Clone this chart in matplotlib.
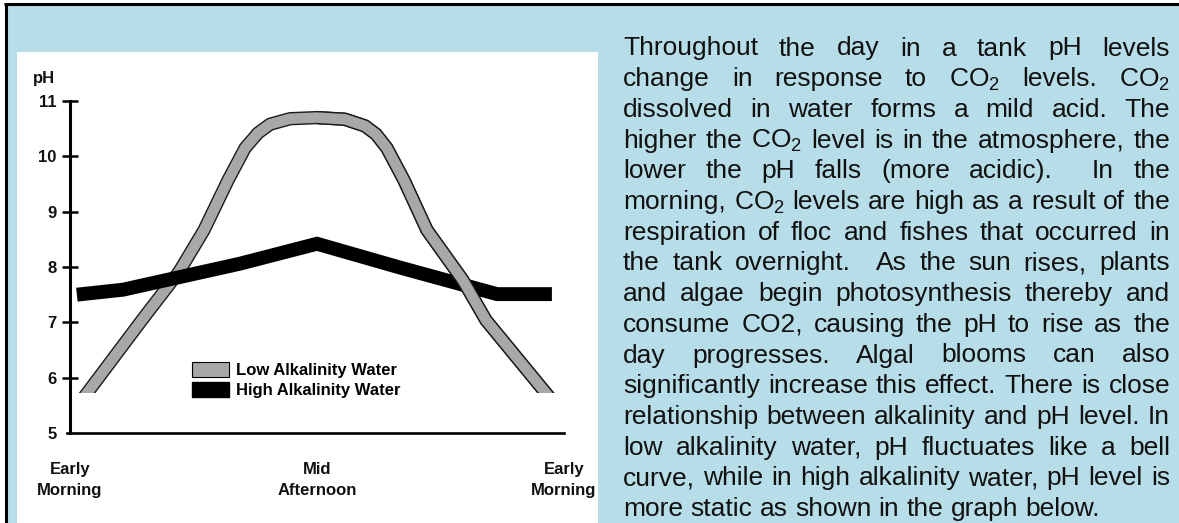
import matplotlib
matplotlib.use('Agg')
import matplotlib.pyplot as plt
import matplotlib.patheffects as pe
from matplotlib.patches import Rectangle, Patch
from matplotlib.lines import Line2D

plt.rcParams['font.family'] = ['Liberation Sans', 'DejaVu Sans']
plt.rcParams['mathtext.fontset'] = 'custom'
plt.rcParams['mathtext.rm'] = 'Liberation Sans'

W, H = 1179, 523

# values (x: 0 = early morning, 1 = mid afternoon, 2 = next early morning)
time_ticks = [0, 1, 2]
time_labels = ['Early\nMorning', 'Mid\nAfternoon', 'Early\nMorning']
ph_ticks = [5, 6, 7, 8, 9, 10, 11]

low_x = [0.069, 0.291, 0.441, 0.543, 0.640, 0.709, 0.761, 0.810, 0.891, 1.0,
         1.113, 1.194, 1.239, 1.283, 1.352, 1.445, 1.591, 1.684, 1.927]
low_ph = [5.72, 7.04, 7.91, 8.67, 9.57, 10.15, 10.42, 10.58, 10.68, 10.70,
          10.67, 10.55, 10.40, 10.15, 9.57, 8.67, 7.76, 7.04, 5.72]

high_x = [0.028, 0.215, 0.688, 1.0, 1.336, 1.729, 1.951]
high_ph = [7.50, 7.59, 8.06, 8.42, 7.99, 7.51, 7.51]

series_names = ['Low Alkalinity Water', 'High Alkalinity Water']

para_lines = [
    'Throughout the day in a tank pH levels',
    'change in response to CO$_2$ levels. CO$_2$',
    'dissolved in water forms a mild acid. The',
    'higher the CO$_2$ level is in the atmosphere, the',
    'lower the pH falls (more acidic).  In the',
    'morning, CO$_2$ levels are high as a result of the',
    'respiration of floc and fishes that occurred in',
    'the tank overnight.  As the sun rises, plants',
    'and algae begin photosynthesis thereby and',
    'consume CO2, causing the pH to rise as the',
    'day progresses. Algal blooms can also',
    'significantly increase this effect. There is close',
    'relationship between alkalinity and pH level. In',
    'low alkalinity water, pH fluctuates like a bell',
    'curve, while in high alkalinity water, pH level is',
    'more static as shown in the graph below.',
]


def fx(px):
    return px / W


def fy(py):
    return 1 - py / H


fig = plt.figure(figsize=(W / 100, H / 100), dpi=100, facecolor='white')

# page background, white chart panel and the black frame lines
fig.add_artist(Rectangle((fx(5), -0.01), 1.0, fy(4) + 0.01, transform=fig.transFigure,
                         facecolor='#b7dde8', edgecolor='none', zorder=0))
fig.add_artist(Rectangle((fx(17), -0.01), fx(598) - fx(17), fy(52) + 0.01, transform=fig.transFigure,
                         facecolor='white', edgecolor='none', zorder=0))
fig.add_artist(Line2D([fx(4), 1.01], [fy(4), fy(4)], transform=fig.transFigure,
                      color='black', lw=2.2, solid_capstyle='butt'))
fig.add_artist(Line2D([fx(5.5), fx(5.5)], [-0.01, fy(4)], transform=fig.transFigure,
                      color='black', lw=2.2, solid_capstyle='butt'))

ax = fig.add_axes([fx(67), fy(433), fx(564) - fx(67), fy(101) - fy(433)])
ax.patch.set_visible(False)
ax.set_xlim(-0.012, 2.0)
ax.set_ylim(5, 11)

clip = Rectangle((-1, 5.72), 4, 10, transform=ax.transData)
clip_right = Rectangle((1, 5.72), 3, 10, transform=ax.transData)

gray = '#a8a8a8'
band = [pe.Stroke(linewidth=9.6, foreground='#1a1a1a'), pe.Normal()]
low1, = ax.plot(low_x, low_ph, color=gray, lw=7.6, solid_joinstyle='round',
                solid_capstyle='projecting', path_effects=band, zorder=2)
low1.set_clip_path(clip)
ax.plot(high_x, high_ph, color='black', lw=10, solid_joinstyle='miter',
        solid_capstyle='butt', zorder=3)
low2, = ax.plot(low_x, low_ph, color=gray, lw=7.6, solid_joinstyle='round',
                solid_capstyle='projecting', path_effects=band, zorder=4)
low2.set_clip_path(clip_right)

for s in ['top', 'right']:
    ax.spines[s].set_visible(False)
ax.spines['left'].set_position(('data', 0))
ax.spines['left'].set_linewidth(2.2)
ax.spines['bottom'].set_linewidth(1.9)

ax.set_yticks(ph_ticks)
ax.set_yticklabels([str(t) for t in ph_ticks], fontsize=12, fontweight='bold', color='#111111')
ax.tick_params(axis='y', direction='inout', length=11.5, width=1.8, pad=4)
ax.yaxis.get_major_ticks()[0].tick1line.set_visible(False)

ax.set_xticks(time_ticks)
ax.set_xticklabels(time_labels, fontsize=12, fontweight='bold', linespacing=1.5, color='#111111')
ax.tick_params(axis='x', length=0, pad=21)

fig.text(fx(44), fy(78), 'pH', fontsize=12, fontweight='bold', ha='center', va='center',
         color='#111111')

handles = [Patch(facecolor=gray, edgecolor='black', lw=0.8), Patch(facecolor='black', edgecolor='black')]
ax.legend(handles, series_names, loc='upper left', bbox_to_anchor=(fx(192), fy(362)),
          bbox_transform=fig.transFigure, frameon=False,
          prop={'weight': 'bold', 'size': 12}, handlelength=2.2, handleheight=1.0,
          handletextpad=0.45, labelspacing=0.25, borderpad=0, borderaxespad=0)

# justified paragraph on the right
r = fig.canvas.get_renderer()
tmp = fig.text(0, 0, 'a a', fontsize=19)
tmp2 = fig.text(0, 0, 'aa', fontsize=19)
space_w = tmp.get_window_extent(r).width - tmp2.get_window_extent(r).width
tmp.remove()
tmp2.remove()

x0, x1 = 623, 1170
for i, line in enumerate(para_lines):
    tokens = line.split(' ')
    base = fy(55.5 + i * 30.7)
    arts, widths = [], []
    for t in tokens:
        if t:
            a = fig.text(0, base, t, fontsize=19, va='baseline', color='#111111')
            arts.append(a)
            widths.append(a.get_window_extent(r).width)
        else:
            arts.append(None)
            widths.append(0)
    if i == len(para_lines) - 1:
        gap = space_w
    else:
        gap = (x1 - x0 - sum(widths)) / (len(tokens) - 1)
    x = x0
    for a, w in zip(arts, widths):
        if a is not None:
            a.set_x(fx(x))
        x += w + gap

fig.savefig('out.png', dpi=100, facecolor=fig.get_facecolor())
